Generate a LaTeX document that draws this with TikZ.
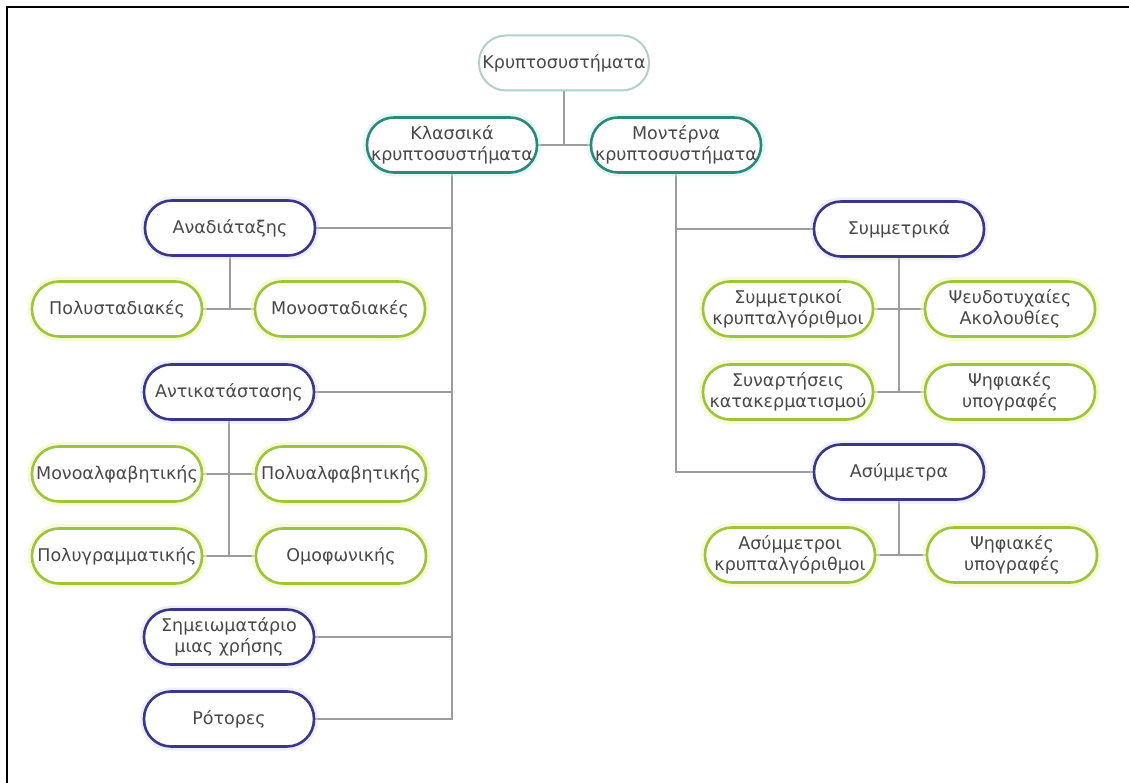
\documentclass[tikz,border=0pt]{standalone}
\usepackage{fontspec}
\setmainfont{DejaVu Sans}
\usetikzlibrary{backgrounds}
\definecolor{rootc}{HTML}{B2CFCB}
\definecolor{tealc}{HTML}{2E8877}
\definecolor{tealglow}{HTML}{BDEFEF}
\definecolor{navyc}{HTML}{3A3886}
\definecolor{navyglow}{HTML}{D8D4F4}
\definecolor{greenc}{HTML}{9DC43E}
\definecolor{greenglow}{HTML}{F2F7B8}
\definecolor{linec}{HTML}{9C9C9C}
\definecolor{textc}{HTML}{484848}
\tikzset{
  box/.style={rectangle, rounded corners=27pt, minimum width=170pt, minimum height=55pt,
    inner xsep=0pt, inner ysep=2pt, align=center, fill=white, line width=2.6pt,
    text=textc, font=\fontsize{17.5}{21.5}\selectfont},
  rootbox/.style={box, draw=rootc, line width=2pt},
  topbox/.style={box, draw=tealc,
    preaction={draw=tealglow, line width=8pt, opacity=.45}},
  midbox/.style={box, draw=navyc,
    preaction={draw=navyglow, line width=8pt, opacity=.4}},
  leafbox/.style={box, draw=greenc,
    preaction={draw=greenglow, line width=9pt, opacity=.6}},
  link/.style={draw=linec, line width=1.6pt},
}
\begin{document}
\begin{tikzpicture}[x=1pt,y=-1pt]
\useasboundingbox (0,0) rectangle (1129,783);
% frame
\draw[line width=2.5pt, line cap=rect] (7,783) -- (7,7) -- (1129,7);

% top levels
\node[rootbox] (root) at (564,63) {Κρυπτοσυστήματα};
\node[topbox] (klass) at (452,145) {Κλασσικά\\κρυπτοσυστήματα};
\node[topbox] (modern) at (676,145) {Μοντέρνα\\κρυπτοσυστήματα};

% classical branch
\node[midbox] (anad) at (230,228) {Αναδιάταξης};
\node[leafbox] (polys) at (117,309) {Πολυσταδιακές};
\node[leafbox] (monos) at (340,309) {Μονοσταδιακές};
\node[midbox] (antik) at (229,392) {Αντικατάστασης};
\node[leafbox] (monoa) at (117,474) {Μονοαλφαβητικής};
\node[leafbox] (polya) at (341,474) {Πολυαλφαβητικής};
\node[leafbox] (polyg) at (117,556) {Πολυγραμματικής};
\node[leafbox] (omof) at (341,556) {Ομοφωνικής};
\node[midbox] (shm) at (229,637) {Σημειωματάριο\\μιας χρήσης};
\node[midbox] (rot) at (229,719) {Ρότορες};

% modern branch
\node[midbox] (symm) at (899,229) {Συμμετρικά};
\node[leafbox] (symk) at (788,309) {Συμμετρικοί\\κρυπταλγόριθμοι};
\node[leafbox] (pseud) at (1010,309) {Ψευδοτυχαίες\\Ακολουθίες};
\node[leafbox] (synart) at (788,392) {Συναρτήσεις\\κατακερματισμού};
\node[leafbox] (psif1) at (1010,392) {Ψηφιακές\\υπογραφές};
\node[midbox] (asym) at (899,472) {Ασύμμετρα};
\node[leafbox] (asymk) at (790,555) {Ασύμμετροι\\κρυπταλγόριθμοι};
\node[leafbox] (psif2) at (1012,555) {Ψηφιακές\\υπογραφές};

\begin{scope}[on background layer]
  % root to the two families
  \draw[link] (root) -- (root |- klass);
  \draw[link] (klass) -- (modern);
  % classical trunk
  \draw[link] (klass.south) |- (rot.east);
  \draw[link] (anad.east) -- (anad.east -| klass.south);
  \draw[link] (antik.east) -- (antik.east -| klass.south);
  \draw[link] (shm.east) -- (shm.east -| klass.south);
  \draw[link] (anad.south) -- (anad.south |- monos.west);
  \draw[link] (polys.east) -- (monos.west);
  \draw[link] (antik.south) -- (antik.south |- omof.west);
  \draw[link] (monoa.east) -- (polya.west);
  \draw[link] (polyg.east) -- (omof.west);
  % modern trunk
  \draw[link] (modern.south) |- (asym.west);
  \draw[link] (symm.west) -- (symm.west -| modern.south);
  \draw[link] (symm.south) -- (symm.south |- psif1.west);
  \draw[link] (symk.east) -- (pseud.west);
  \draw[link] (synart.east) -- (psif1.west);
  \draw[link] (asym.south) -- (asym.south |- psif2.west);
  \draw[link] (asymk.east) -- (psif2.west);
\end{scope}
\end{tikzpicture}
\end{document}
